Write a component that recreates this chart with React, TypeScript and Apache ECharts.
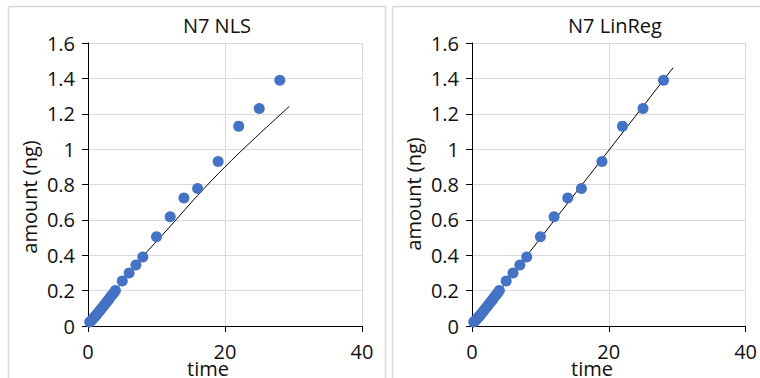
import React, { useEffect, useRef } from "react";
import * as echarts from "echarts";

const times = [0.25, 0.5, 0.75, 1, 1.25, 1.5, 1.75, 2, 2.25, 2.5, 2.75, 3, 3.25, 3.5, 3.75, 4, 5, 6, 7, 8, 10, 12, 14, 16, 19, 22, 25, 28];
const amounts = [0.022, 0.031, 0.042, 0.053, 0.064, 0.076, 0.088, 0.1, 0.112, 0.124, 0.137, 0.149, 0.162, 0.175, 0.187, 0.2, 0.255, 0.3, 0.345, 0.39, 0.505, 0.618, 0.724, 0.777, 0.93, 1.13, 1.23, 1.39];

const nlsFitTimes = [0, 4, 7.55, 12, 16, 20, 24.1, 29.4];
const nlsFitAmounts = [0, 0.2, 0.373, 0.563, 0.738, 0.9, 1.053, 1.242];

const linFitTimes = [0.25, 29.4];
const linFitAmounts = [0.012, 1.46];

const xTicks = { min: 0, max: 40, interval: 20 };
const yTicks = { min: 0, max: 1.6, interval: 0.2 };

const titles = ["N7 NLS", "N7 LinReg"];
const xName = "time";
const yName = "amount (ng)";

const FONT = "Open Sans";
const pts = times.map((t, i) => [t, amounts[i]]);
const nlsLine = nlsFitTimes.map((t, i) => [t, nlsFitAmounts[i]]);
const linLine = linFitTimes.map((t, i) => [t, linFitAmounts[i]]);

function makeX(gridIndex: number) {
  return {
    type: "value",
    gridIndex,
    min: xTicks.min,
    max: xTicks.max,
    interval: xTicks.interval,
    axisLine: { show: true, onZero: false, lineStyle: { color: "#000", width: 1 } },
    axisTick: { show: true, length: 6, lineStyle: { color: "#000" } },
    splitLine: { show: true, lineStyle: { color: "#d9d9d9", width: 1 } },
    axisLabel: { fontFamily: FONT, fontSize: 20, color: "#111", margin: 15 },
  };
}
function makeY(gridIndex: number) {
  return {
    type: "value",
    gridIndex,
    min: yTicks.min,
    max: yTicks.max,
    interval: yTicks.interval,
    axisLine: { show: true, onZero: false, lineStyle: { color: "#000", width: 1 } },
    axisTick: { show: true, length: 6, lineStyle: { color: "#000" } },
    splitLine: { show: true, lineStyle: { color: "#d9d9d9", width: 1 } },
    axisLabel: { fontFamily: FONT, fontSize: 20, color: "#111", margin: 13 },
  };
}

function txt(text: string, x: number, y: number, rotation = 0) {
  return {
    type: "text",
    x,
    y,
    rotation,
    style: {
      text,
      fill: "#111",
      fontFamily: FONT,
      fontSize: 20,
      align: "center",
      verticalAlign: "middle",
    },
  };
}

export default function App() {
  const ref = useRef<HTMLDivElement>(null);
  useEffect(() => {
    if (!ref.current) return;
    const chart = echarts.init(ref.current, undefined, { renderer: "svg" });
    chart.setOption({
      animation: false,
      backgroundColor: "#fff",
      grid: [
        { left: 88, top: 43, width: 274, height: 283 },
        { left: 472, top: 43, width: 274, height: 283 },
      ],
      xAxis: [makeX(0), makeX(1)],
      yAxis: [makeY(0), makeY(1)],
      series: [
        {
          type: "line",
          xAxisIndex: 0,
          yAxisIndex: 0,
          data: nlsLine,
          smooth: 0.3,
          showSymbol: false,
          lineStyle: { color: "#000", width: 1 },
          z: 2,
        },
        {
          type: "scatter",
          xAxisIndex: 0,
          yAxisIndex: 0,
          data: pts,
          symbolSize: 11,
          itemStyle: { color: "#4472C4", opacity: 1 },
          z: 3,
        },
        {
          type: "line",
          xAxisIndex: 1,
          yAxisIndex: 1,
          data: linLine,
          showSymbol: false,
          lineStyle: { color: "#000", width: 1 },
          z: 2,
        },
        {
          type: "scatter",
          xAxisIndex: 1,
          yAxisIndex: 1,
          data: pts,
          symbolSize: 11,
          itemStyle: { color: "#4472C4", opacity: 1 },
          z: 3,
        },
      ],
      graphic: [
        {
          type: "rect",
          shape: { x: 8.5, y: 6.5, width: 377, height: 400 },
          style: { fill: "none", stroke: "#d9d9d9", lineWidth: 1.5 },
          z: -1,
        },
        {
          type: "rect",
          shape: { x: 392.5, y: 6.5, width: 400, height: 400 },
          style: { fill: "none", stroke: "#d9d9d9", lineWidth: 1.5 },
          z: -1,
        },
        txt(titles[0], 217, 25),
        txt(titles[1], 615, 25),
        txt(xName, 208, 368),
        txt(xName, 592, 368),
        txt(yName, 29, 197, Math.PI / 2),
        txt(yName, 413, 194, Math.PI / 2),
      ],
    });
    return () => chart.dispose();
  }, []);
  return (
    <div
      ref={ref}
      style={{ position: "fixed", left: 0, top: 0, width: 760, height: 378 }}
    />
  );
}
